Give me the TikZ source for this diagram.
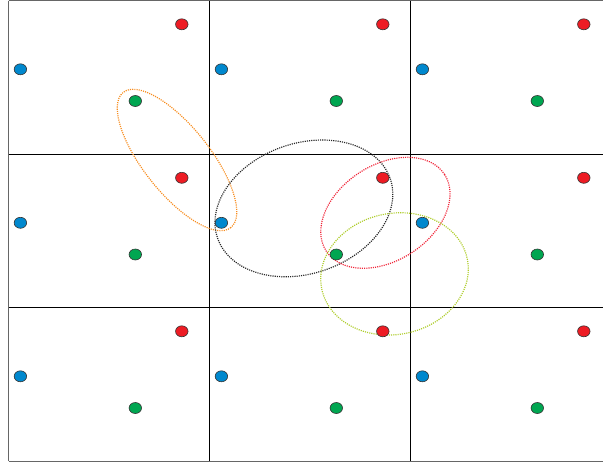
\documentclass[tikz,border=0pt]{standalone}
\usetikzlibrary{shapes.geometric}
\definecolor{dred}{RGB}{237,28,36}
\definecolor{dblue}{RGB}{0,136,206}
\definecolor{dgreen}{RGB}{0,166,81}
\definecolor{eorange}{RGB}{247,140,30}
\definecolor{ered}{RGB}{240,35,55}
\definecolor{eyellow}{RGB}{175,205,45}
\tikzset{
  outer/.style={draw=black!60, line width=0.9pt},
  inner/.style={draw=black, line width=0.9pt},
  dot/.style={ellipse, minimum width=12.5pt, minimum height=11pt, inner sep=0pt, draw=black!80, line width=0.6pt},
  reddot/.style={dot, fill=dred},
  bluedot/.style={dot, fill=dblue},
  greendot/.style={dot, fill=dgreen},
  ring/.style={line width=1.2pt, dash pattern=on 1.1pt off 1.1pt},
}
\begin{document}
\begin{tikzpicture}[x=1pt,y=-1pt]
\useasboundingbox (0,0) rectangle (603,463);
% grid
\draw[outer] (8.5,0.5) -- (603,0.5);
\draw[outer] (8.5,461) -- (603,461);
\draw[outer] (8.5,0.5) -- (8.5,461);
\draw[inner] (209.5,0.5) -- (209.5,461);
\draw[inner] (410.5,0.5) -- (410.5,461);
\draw[inner] (8.5,154) -- (603,154);
\draw[inner] (8.5,307.5) -- (603,307.5);
% ellipses
\draw[ring, eorange] [rotate around={-51.5:(177,160)}] (177,160) ellipse [x radius=86.4, y radius=33.2];
\draw[ring, black!85] [rotate around={19:(303.9,208.4)}] (303.9,208.4) ellipse [x radius=91.3, y radius=65.1];
\draw[ring, ered] [rotate around={32.9:(385.4,212.8)}] (385.4,212.8) ellipse [x radius=70.5, y radius=47.8];
\draw[ring, eyellow] [rotate around={11.75:(394.5,273.9)}] (394.5,273.9) ellipse [x radius=74.3, y radius=60.5];
% dots
\foreach \i in {0,1,2}{
  \foreach \j in {0,1,2}{
    \node[reddot]   (r\i\j) at ({8.5+201*\i+173.3},{0.5+153.5*\j+23.8}) {};
    \node[bluedot]  (b\i\j) at ({8.5+201*\i+11.9},{0.5+153.5*\j+68.8}) {};
    \node[greendot] (g\i\j) at ({8.5+201*\i+126.8},{0.5+153.5*\j+100.5}) {};
  }
}
\end{tikzpicture}
\end{document}
